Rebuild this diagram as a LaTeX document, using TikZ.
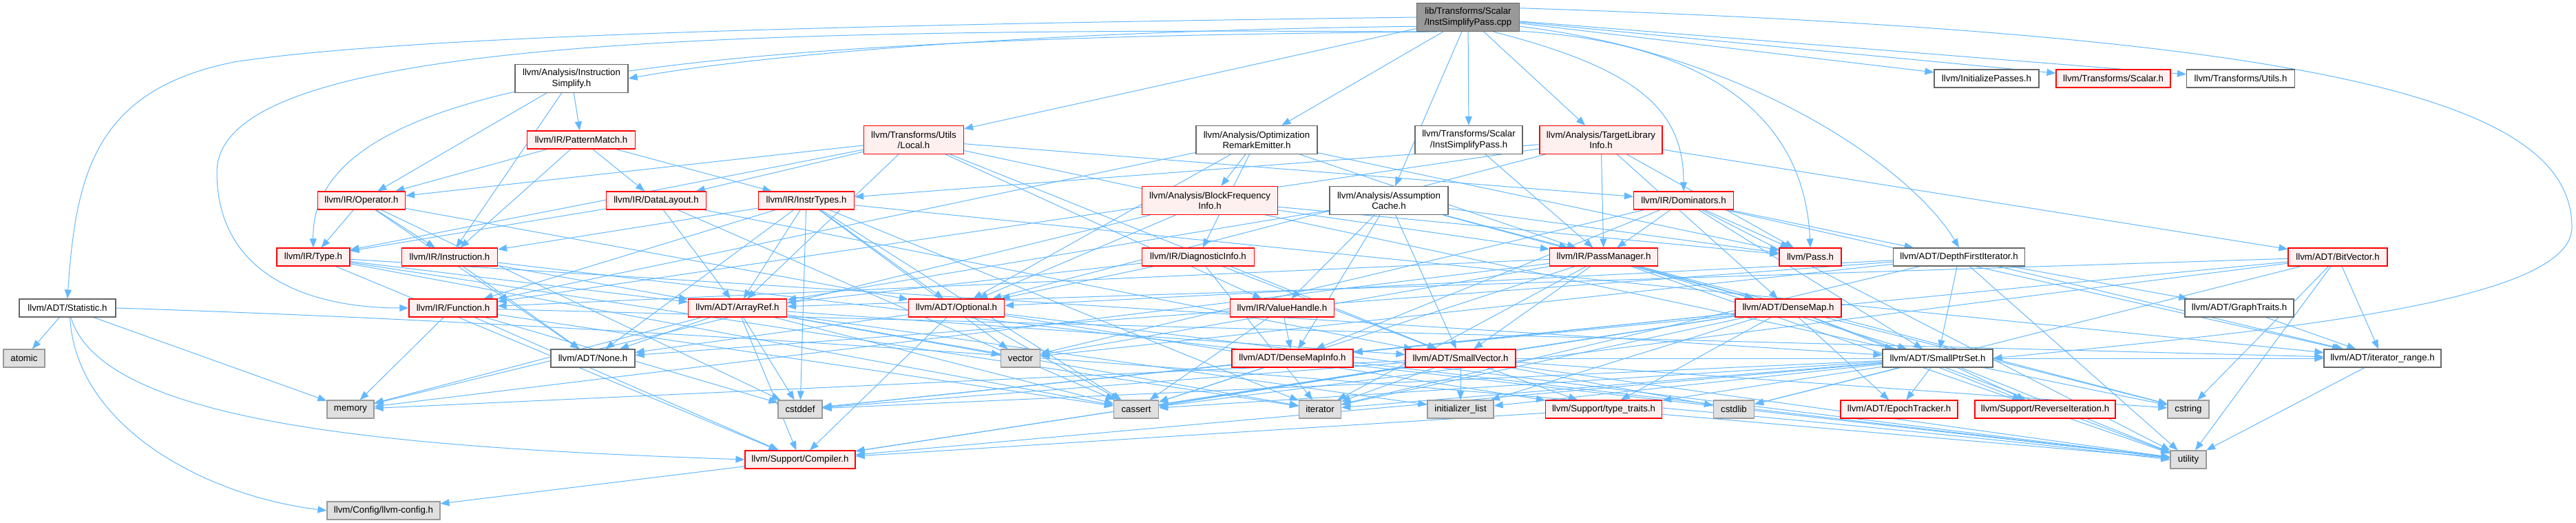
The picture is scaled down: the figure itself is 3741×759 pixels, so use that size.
\documentclass[tikz,border=0pt]{standalone}
\usepackage{fontspec}
\setmainfont{Liberation Sans}
\usetikzlibrary{arrows.meta}
\definecolor{edgeblue}{HTML}{63B8FF}
\definecolor{redfill}{HTML}{FFF0F0}
\definecolor{grayfill}{HTML}{E0E0E0}
\definecolor{mainfill}{HTML}{999999}
\definecolor{darkborder}{HTML}{666666}
\definecolor{lightborder}{HTML}{999999}
\definecolor{redborder}{HTML}{FF0000}
\pgfdeclarelayer{bg}
\pgfsetlayers{bg,main}
\begin{document}
\begin{tikzpicture}[x=1pt,y=-1pt,
  font=\fontsize{13.3}{15.5}\selectfont,
  box/.style={rectangle, line width=1.2pt, inner xsep=2pt, inner ysep=0pt, minimum height=26pt, align=center},
  two/.style={minimum height=41pt},
  rbox/.style={box, draw=redborder, fill=redfill},
  wbox/.style={box, draw=darkborder, fill=white},
  gbox/.style={box, draw=lightborder, fill=grayfill},
  mbox/.style={box, draw=darkborder, fill=mainfill},
  dep/.style={draw=edgeblue, line width=1pt, -{Triangle[length=13pt,width=10pt]}}]
\useasboundingbox (0,0) rectangle (3741,759);
% row 0
\node[mbox,two,minimum width=149pt] (main) at (2132,25) {lib/Transforms/Scalar\\/InstSimplifyPass.cpp};
% row 1
\node[wbox,two,minimum width=164pt] (InstSimp) at (830,114) {llvm/Analysis/Instruction\\Simplify.h};
\node[wbox,minimum width=152pt] (InitP) at (2885,114) {llvm/InitializePasses.h};
\node[rbox,minimum width=166pt] (ScalarH) at (3069,114) {llvm/Transforms/Scalar.h};
\node[wbox,minimum width=157pt] (UtilsH) at (3254,114) {llvm/Transforms/Utils.h};
% row 2
\node[rbox,minimum width=157pt] (PatM) at (844,203) {llvm/IR/PatternMatch.h};
\node[rbox,two,minimum width=145pt] (Local) at (1327,203) {llvm/Transforms/Utils\\/Local.h};
\node[wbox,two,minimum width=176pt] (OptRE) at (1825,203) {llvm/Analysis/Optimization\\RemarkEmitter.h};
\node[wbox,two,minimum width=156pt] (ISPh) at (2133,203) {llvm/Transforms/Scalar\\/InstSimplifyPass.h};
\node[rbox,two,minimum width=178pt] (TLI) at (2325,203) {llvm/Analysis/TargetLibrary\\Info.h};
% row 3
\node[rbox,minimum width=127pt] (Op) at (525,291) {llvm/IR/Operator.h};
\node[rbox,minimum width=145pt] (DL) at (953,291) {llvm/IR/DataLayout.h};
\node[rbox,minimum width=139pt] (IT) at (1171,291) {llvm/IR/InstrTypes.h};
\node[rbox,two,minimum width=197pt] (BFI) at (1757,291) {llvm/Analysis/BlockFrequency\\Info.h};
\node[wbox,two,minimum width=172pt] (AC) at (2017,291) {llvm/Analysis/Assumption\\Cache.h};
\node[rbox,minimum width=145pt] (Dom) at (2445,291) {llvm/IR/Dominators.h};
% row 4
\node[rbox,minimum width=106pt] (Type) at (455,373) {llvm/IR/Type.h};
\node[rbox,minimum width=139pt] (Instr) at (653,373) {llvm/IR/Instruction.h};
\node[rbox,minimum width=163pt] (Diag) at (1740,373) {llvm/IR/DiagnosticInfo.h};
\node[rbox,minimum width=157pt] (PMgr) at (2329,373) {llvm/IR/PassManager.h};
\node[rbox,minimum width=90pt] (Pass) at (2629,373) {llvm/Pass.h};
\node[wbox,minimum width=191pt] (DFI) at (2845,373) {llvm/ADT/DepthFirstIterator.h};
\node[rbox,minimum width=144pt] (BV) at (3395,373) {llvm/ADT/BitVector.h};
% row 5
\node[wbox,minimum width=140pt] (Stat) at (98,447) {llvm/ADT/Statistic.h};
\node[rbox,minimum width=128pt] (Func) at (658,447) {llvm/IR/Function.h};
\node[rbox,minimum width=143pt] (AR) at (1071,447) {llvm/ADT/ArrayRef.h};
\node[rbox,minimum width=139pt] (Opt) at (1389,447) {llvm/ADT/Optional.h};
\node[rbox,minimum width=151pt] (VH) at (1862,447) {llvm/IR/ValueHandle.h};
\node[rbox,minimum width=154pt] (DM) at (2597,447) {llvm/ADT/DenseMap.h};
\node[wbox,minimum width=158pt] (GT) at (3252,447) {llvm/ADT/GraphTraits.h};
% row 6
\node[gbox,minimum width=60pt] (atomic) at (35,520) {atomic};
\node[wbox,minimum width=122pt] (None) at (861,520) {llvm/ADT/None.h};
\node[gbox,minimum width=57pt] (vector) at (1482,520) {vector};
\node[rbox,minimum width=176pt] (DMI) at (1877,520) {llvm/ADT/DenseMapInfo.h};
\node[rbox,minimum width=160pt] (SV) at (2121,520) {llvm/ADT/SmallVector.h};
\node[wbox,minimum width=160pt] (SPS) at (2814,520) {llvm/ADT/SmallPtrSet.h};
\node[wbox,minimum width=170pt] (IR) at (3460,520) {llvm/ADT/iterator\_range.h};
% row 7
\node[gbox,minimum width=68pt] (memory) at (509,594) {memory};
\node[gbox,minimum width=64pt] (cstddef) at (1162,594) {cstddef};
\node[gbox,minimum width=65pt] (cassert) at (1650,594) {cassert};
\node[gbox,minimum width=61pt] (iterator) at (1917,594) {iterator};
\node[gbox,minimum width=96pt] (initlist) at (2121,594) {initializer\_list};
\node[rbox,minimum width=169pt] (tt) at (2329,594) {llvm/Support/type\_traits.h};
\node[gbox,minimum width=59pt] (cstdlib) at (2518,594) {cstdlib};
\node[rbox,minimum width=170pt] (Epoch) at (2758,594) {llvm/ADT/EpochTracker.h};
\node[rbox,minimum width=204pt] (RevIt) at (2970,594) {llvm/Support/ReverseIteration.h};
\node[gbox,minimum width=60pt] (cstring) at (3178,594) {cstring};
% row 8
\node[rbox,minimum width=160pt] (Comp) at (1162,667) {llvm/Support/Compiler.h};
\node[gbox,minimum width=52pt] (utility) at (3178,667) {utility};
% row 9
\node[gbox,minimum width=164pt] (cfg) at (557,741) {llvm/Config/llvm-config.h};

\begin{pgfonlayer}{bg}
% main
\draw[dep] (main.west) .. controls (1300,35) and (600,50) .. (340,90) .. controls (140,130) and (110,250) .. (Stat.north);
\draw[dep] (main.200) .. controls (1000,40) and (315,60) .. (315,250) .. controls (315,400) and (450,447) .. (Func.west);
\draw[dep] (main.205) .. controls (1000,55) and (450,110) .. (Type.north);
\draw[dep] (main.190) .. controls (1500,45) and (1100,80) .. (InstSimp.east);
\draw[dep] (main) -- (Local);
\draw[dep] (main) -- (OptRE);
\draw[dep] (main) -- (AC);
\draw[dep] (main) -- (ISPh);
\draw[dep] (main) -- (TLI);
\draw[dep] (main.330) .. controls (2380,100) and (2445,160) .. (Dom.north);
\draw[dep] (main.345) .. controls (2450,60) and (2620,150) .. (Pass.north);
\draw[dep] (main.350) .. controls (2550,80) and (2780,250) .. (DFI.north);
\draw[dep] (main) -- (InitP);
\draw[dep] (main) -- (ScalarH);
\draw[dep] (main) -- (UtilsH);
\draw[dep] (main.10) .. controls (3400,50) and (3735,150) .. (3735,330) .. controls (3735,440) and (3300,480) .. (SPS.east);
% Statistic
\draw[dep] (Stat) -- (atomic);
\draw[dep] (Stat) -- (memory);
\draw[dep] (Stat.285) .. controls (110,620) and (300,720) .. (cfg.west);
\draw[dep] (Stat.290) .. controls (150,620) and (600,650) .. (Comp.west);
\draw[dep] (Stat.east) .. controls (1200,480) and (2600,600) .. (utility.west);
% others
\foreach \t in {PatM,Op,Instr} \draw[dep] (InstSimp) -- (\t);
\foreach \t in {Op,Instr,DL,IT} \draw[dep] (PatM) -- (\t);
\foreach \t in {AR,SPS,SV,DL,Dom,Op,Type,VH} \draw[dep] (Local) -- (\t);
\foreach \t in {Opt,BFI,Diag,Func,PMgr,Pass} \draw[dep] (OptRE) -- (\t);
\draw[dep] (ISPh) -- (PMgr);
\foreach \t in {BV,DM,Opt,Func,IT,PMgr,Pass} \draw[dep] (TLI) -- (\t);
\foreach \t in {None,Opt,Instr,Type,cstddef} \draw[dep] (Op) -- (\t);
\foreach \t in {AR,SV,Type,cassert} \draw[dep] (DL) -- (\t);
\foreach \t in {AR,None,Opt,IR,Func,Instr,cassert,cstddef,iterator,vector} \draw[dep] (IT) -- (\t);
\foreach \t in {Opt,PMgr,Pass,memory} \draw[dep] (BFI) -- (\t);
\foreach \t in {AR,DM,DMI,SV,PMgr,VH,Pass} \draw[dep] (AC) -- (\t);
\foreach \t in {DMI,DFI,SPS,IR,PMgr,Pass,utility,vector} \draw[dep] (Dom) -- (\t);
\foreach \t in {AR,SPS,Comp,cassert,iterator} \draw[dep] (Type) -- (\t);
\foreach \t in {AR,None,utility} \draw[dep] (Instr) -- (\t);
\foreach \t in {AR,Opt,SV,iterator} \draw[dep] (Diag) -- (\t);
\foreach \t in {DM,SPS,SV,Func,cassert,cstring,iterator,memory,utility,vector} \draw[dep] (PMgr) -- (\t);
\foreach \t in {GT,None,Opt,SPS,IR,iterator,utility,vector} \draw[dep] (DFI) -- (\t);
\foreach \t in {AR,DMI,IR,cassert,cstdlib,cstring,utility} \draw[dep] (BV) -- (\t);
\foreach \t in {IR,Comp,cassert,cstddef,memory} \draw[dep] (Func) -- (\t);
\foreach \t in {None,SV,Comp,cassert,cstddef,initlist,iterator,memory,vector} \draw[dep] (AR) -- (\t);
\foreach \t in {None,Comp,tt,cassert,utility} \draw[dep] (Opt) -- (\t);
\foreach \t in {DMI,cassert} \draw[dep] (VH) -- (\t);
\foreach \t in {DMI,Epoch,Comp,RevIt,tt,cassert,cstddef,cstring,initlist,iterator,utility} \draw[dep] (DM) -- (\t);
\foreach \t in {cassert,cstddef,utility} \draw[dep] (DMI) -- (\t);
\foreach \t in {IR,Comp,tt,cassert,cstddef,cstdlib,cstring,initlist,iterator,memory,utility} \draw[dep] (SV) -- (\t);
\foreach \t in {Epoch,Comp,RevIt,tt,cassert,cstddef,cstdlib,cstring,initlist,iterator,utility} \draw[dep] (SPS) -- (\t);
\draw[dep] (GT) -- (IR);
\draw[dep] (IR) -- (utility);
\foreach \t in {Comp,utility} \draw[dep] (tt) -- (\t);
\draw[dep] (Comp) -- (cfg);
\end{pgfonlayer}
\end{tikzpicture}
\end{document}
